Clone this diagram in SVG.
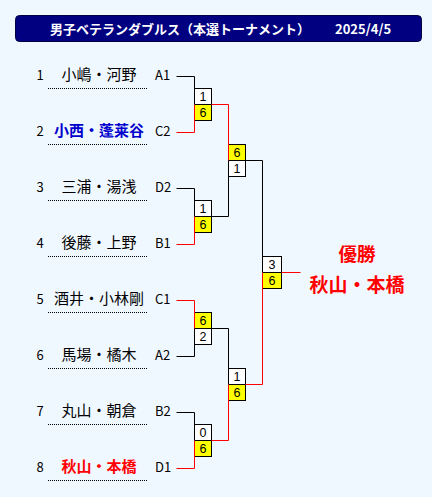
<svg xmlns="http://www.w3.org/2000/svg" width="432" height="497" viewBox="0 0 432 497">
<style>
text{font-family:"Noto Sans CJK JP","Noto Sans",sans-serif;}
.num{font-size:13px;fill:#000;text-anchor:middle;}
.code{font-size:13px;fill:#000;}
.name{font-size:15px;fill:#000;text-anchor:middle;}
.blue{fill:#0000CC;font-weight:bold;}
.red{fill:#FF0000;font-weight:bold;}
.ul{stroke:#000;stroke-width:1;stroke-dasharray:1 1;}
.box{fill:#fff;stroke:#000;stroke-width:1;}
.win{fill:#FFFF00;stroke:#000;stroke-width:1;}
.mid{stroke:#000;stroke-width:1;stroke-dasharray:1 1;}
.sc{font-family:"Liberation Sans",Arial,sans-serif;font-size:12.5px;fill:#000;text-anchor:middle;}
.lb{fill:none;stroke:#000;stroke-width:1;}
.lr{fill:none;stroke:#FF0000;stroke-width:1;}
</style>
<rect x="0" y="0" width="432" height="497" fill="#F0F8FF"/>
<g id="header">
<rect x="15.5" y="15.5" width="406" height="26" rx="4" fill="#000080" stroke="#000040"/>
<text x="180" y="33.5" font-size="13" font-weight="bold" fill="#fff" text-anchor="middle">男子ベテランダブルス（本選トーナメント）</text>
<text x="335" y="33.5" font-size="13" font-weight="bold" fill="#fff">2025/4/5</text>
</g>
<g id="players">
<g id="p1"><text class="num" x="40" y="79.5">1</text><text class="name" x="99" y="80">小嶋・河野</text><text class="code" x="155" y="79.5">A1</text><line class="ul" x1="48" y1="88.5" x2="148" y2="88.5"/></g>
<g id="p2"><text class="num" x="40" y="135.5">2</text><text class="name blue" x="99" y="136">小西・蓬莱谷</text><text class="code" x="155" y="135.5">C2</text><line class="ul" x1="48" y1="144.5" x2="148" y2="144.5"/></g>
<g id="p3"><text class="num" x="40" y="191.5">3</text><text class="name" x="99" y="192">三浦・湯浅</text><text class="code" x="155" y="191.5">D2</text><line class="ul" x1="48" y1="200.5" x2="148" y2="200.5"/></g>
<g id="p4"><text class="num" x="40" y="247.5">4</text><text class="name" x="99" y="248">後藤・上野</text><text class="code" x="155" y="247.5">B1</text><line class="ul" x1="48" y1="256.5" x2="148" y2="256.5"/></g>
<g id="p5"><text class="num" x="40" y="303.5">5</text><text class="name" x="99" y="304">酒井・小林剛</text><text class="code" x="155" y="303.5">C1</text><line class="ul" x1="48" y1="312.5" x2="148" y2="312.5"/></g>
<g id="p6"><text class="num" x="40" y="359.5">6</text><text class="name" x="99" y="360">馬場・橘木</text><text class="code" x="155" y="359.5">A2</text><line class="ul" x1="48" y1="368.5" x2="148" y2="368.5"/></g>
<g id="p7"><text class="num" x="40" y="415.5">7</text><text class="name" x="99" y="416">丸山・朝倉</text><text class="code" x="155" y="415.5">B2</text><line class="ul" x1="48" y1="424.5" x2="148" y2="424.5"/></g>
<g id="p8"><text class="num" x="40" y="471.5">8</text><text class="name red" x="99" y="472">秋山・本橋</text><text class="code" x="155" y="471.5">D1</text><line class="ul" x1="48" y1="480.5" x2="148" y2="480.5"/></g>
</g>
<g id="m1">
<rect class="box" x="194.5" y="88.5" width="17" height="16"/><rect class="win" x="194.5" y="104.5" width="17" height="16"/><line class="mid" x1="194.5" y1="104.5" x2="211.5" y2="104.5"/>
<text class="sc" x="203" y="100.5">1</text><text class="sc" x="203" y="116.5">6</text>
</g>
<g id="m2">
<rect class="box" x="194.5" y="200.5" width="17" height="16"/><rect class="win" x="194.5" y="216.5" width="17" height="16"/><line class="mid" x1="194.5" y1="216.5" x2="211.5" y2="216.5"/>
<text class="sc" x="203" y="212.5">1</text><text class="sc" x="203" y="228.5">6</text>
</g>
<g id="m3">
<rect class="win" x="194.5" y="312.5" width="17" height="16"/><rect class="box" x="194.5" y="328.5" width="17" height="16"/><line class="mid" x1="194.5" y1="328.5" x2="211.5" y2="328.5"/>
<text class="sc" x="203" y="324.5">6</text><text class="sc" x="203" y="340.5">2</text>
</g>
<g id="m4">
<rect class="box" x="194.5" y="424.5" width="17" height="16"/><rect class="win" x="194.5" y="440.5" width="17" height="16"/><line class="mid" x1="194.5" y1="440.5" x2="211.5" y2="440.5"/>
<text class="sc" x="203" y="436.5">0</text><text class="sc" x="203" y="452.5">6</text>
</g>
<g id="sf1">
<rect class="win" x="228.5" y="144.5" width="17" height="16"/><rect class="box" x="228.5" y="160.5" width="17" height="16"/><line class="mid" x1="228.5" y1="160.5" x2="245.5" y2="160.5"/>
<text class="sc" x="237" y="156.5">6</text><text class="sc" x="237" y="172.5">1</text>
</g>
<g id="sf2">
<rect class="box" x="228.5" y="368.5" width="17" height="16"/><rect class="win" x="228.5" y="384.5" width="17" height="16"/><line class="mid" x1="228.5" y1="384.5" x2="245.5" y2="384.5"/>
<text class="sc" x="237" y="380.5">1</text><text class="sc" x="237" y="396.5">6</text>
</g>
<g id="final">
<rect class="box" x="262.5" y="256.5" width="19" height="16"/><rect class="win" x="262.5" y="272.5" width="19" height="16"/><line class="mid" x1="262.5" y1="272.5" x2="281.5" y2="272.5"/>
<text class="sc" x="272" y="268.5">3</text><text class="sc" x="272" y="284.5">6</text>
</g>
<g id="champion">
<text x="357" y="261" font-size="18.5" font-weight="bold" fill="#FF0000" text-anchor="middle">優勝</text>
<text x="357" y="292" font-size="19" font-weight="bold" fill="#FF0000" text-anchor="middle">秋山・本橋</text>
</g>
<g id="connectors">
<polyline class="lb" points="176.5,76.5 194.5,76.5 194.5,88.5"/>
<polyline class="lr" points="176.5,132.5 194.5,132.5 194.5,104.5"/>
<polyline class="lr" points="211.5,104.5 228.5,104.5 228.5,160.5"/>
<polyline class="lb" points="176.5,188.5 194.5,188.5 194.5,200.5"/>
<polyline class="lr" points="176.5,244.5 194.5,244.5 194.5,216.5"/>
<polyline class="lb" points="211.5,216.5 228.5,216.5 228.5,176.5"/>
<polyline class="lr" points="176.5,300.5 194.5,300.5 194.5,328.5"/>
<polyline class="lb" points="176.5,356.5 194.5,356.5 194.5,344.5"/>
<polyline class="lb" points="211.5,328.5 228.5,328.5 228.5,368.5"/>
<polyline class="lb" points="176.5,412.5 194.5,412.5 194.5,424.5"/>
<polyline class="lr" points="176.5,468.5 194.5,468.5 194.5,440.5"/>
<polyline class="lr" points="211.5,440.5 228.5,440.5 228.5,384.5"/>
<polyline class="lb" points="245.5,160.5 262.5,160.5 262.5,256.5"/>
<polyline class="lr" points="245.5,384.5 262.5,384.5 262.5,272.5"/>
<polyline class="lr" points="281.5,272.5 300.5,272.5"/>
</g>
</svg>
